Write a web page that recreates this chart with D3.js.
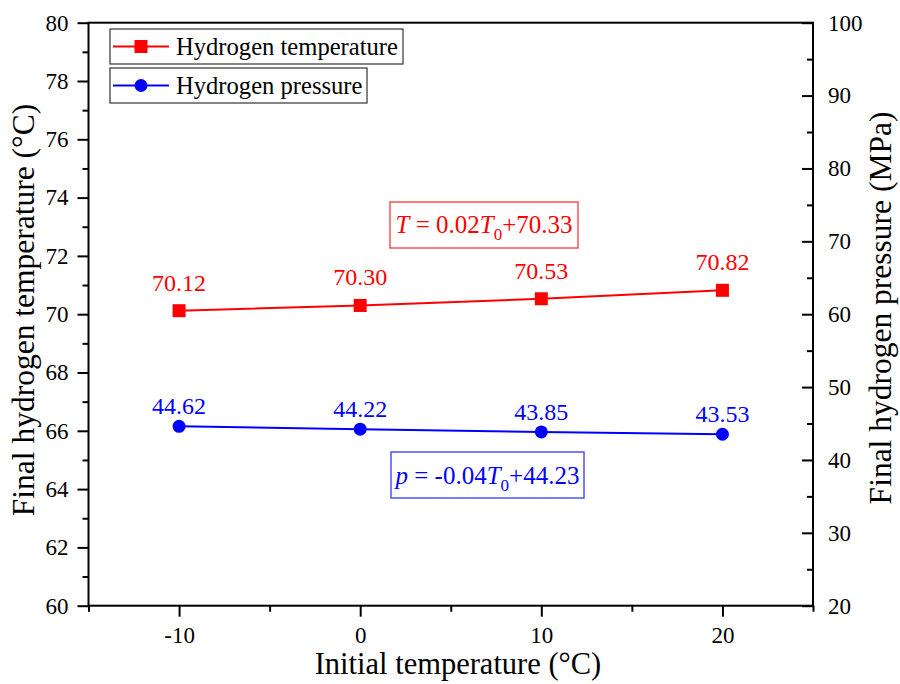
<!DOCTYPE html>
<html>
<head>
<meta charset="utf-8">
<script src="https://cdn.jsdelivr.net/npm/d3@7"></script>
<style>
  html, body { margin: 0; padding: 0; background: #fff; }
  svg text { font-family: "Liberation Serif", "Times New Roman", serif; }
</style>
</head>
<body>
<svg id="chart" width="900" height="684"></svg>
<script>
// Initial temperature (°C)
const initialTemps = [-10, 0, 10, 20];
// Final hydrogen temperature (°C)
const finalTemps = [70.12, 70.30, 70.53, 70.82];
// Final hydrogen pressure (MPa)
const finalPressures = [44.62, 44.22, 43.85, 43.53];

const xTicks = [-10, 0, 10, 20];
const yLeftTicks = [60, 62, 64, 66, 68, 70, 72, 74, 76, 78, 80];
const yRightTicks = [20, 30, 40, 50, 60, 70, 80, 90, 100];

const margin = { left: 88.5, right: 813, top: 22.7, bottom: 605.7 };
const svg = d3.select("#chart");

const x = d3.scaleLinear().domain([-15, 25]).range([margin.left, margin.right]);
const yL = d3.scaleLinear().domain([60, 80]).range([margin.bottom, margin.top]);
const yR = d3.scaleLinear().domain([20, 100]).range([margin.bottom, margin.top]);

const red = "#ff0000", blue = "#0000ff";
const plain = d => String(d);

// frame
svg.append("rect")
  .attr("x", margin.left).attr("y", margin.top)
  .attr("width", margin.right - margin.left).attr("height", margin.bottom - margin.top)
  .attr("fill", "none").attr("stroke", "#000").attr("stroke-width", 2);

function styleAxis(g, fontSize) {
  g.select(".domain").remove();
  g.selectAll(".tick line").attr("stroke", "#000").attr("stroke-width", 2);
  g.selectAll(".tick text").attr("font-size", fontSize).attr("fill", "#000")
    .style("font-family", "'Liberation Serif', 'Times New Roman', serif");
}

// bottom axis: majors and minors
const gx = svg.append("g").attr("transform", `translate(0,${margin.bottom})`)
  .call(d3.axisBottom(x).tickValues(xTicks).tickSize(11).tickPadding(10).tickFormat(plain));
styleAxis(gx, 23);
const gxm = svg.append("g").attr("transform", `translate(0,${margin.bottom})`)
  .call(d3.axisBottom(x).tickValues([-15, -5, 5, 15, 25]).tickSize(6).tickFormat(""));
styleAxis(gxm, 23);

// left axis
const gy = svg.append("g").attr("transform", `translate(${margin.left},0)`)
  .call(d3.axisLeft(yL).tickValues(yLeftTicks).tickSize(11).tickPadding(9).tickFormat(plain));
styleAxis(gy, 23);
const gym = svg.append("g").attr("transform", `translate(${margin.left},0)`)
  .call(d3.axisLeft(yL).tickValues(d3.range(61, 80, 2)).tickSize(6).tickFormat(""));
styleAxis(gym, 23);

// right axis (ticks point inward)
const gr = svg.append("g").attr("transform", `translate(${margin.right},0)`)
  .call(d3.axisRight(yR).tickValues(yRightTicks).tickSize(-11).tickFormat(plain));
styleAxis(gr, 23);
gr.selectAll(".tick text").attr("x", 15);
const grm = svg.append("g").attr("transform", `translate(${margin.right},0)`)
  .call(d3.axisRight(yR).tickValues(d3.range(25, 100, 10)).tickSize(-6).tickFormat(""));
styleAxis(grm, 23);

// axis titles
svg.append("text").attr("x", 458).attr("y", 674).attr("text-anchor", "middle")
  .attr("font-size", 30.5).text("Initial temperature (°C)");
svg.append("text").attr("transform", "translate(34,310) rotate(-90)")
  .attr("text-anchor", "middle").attr("font-size", 31.5).text("Final hydrogen temperature (°C)");
svg.append("text").attr("transform", "translate(891,308) rotate(-90)")
  .attr("text-anchor", "middle").attr("font-size", 31.5).text("Final hydrogen pressure (MPa)");

const tData = initialTemps.map((t, i) => ({ x: t, y: finalTemps[i] }));
const pData = initialTemps.map((t, i) => ({ x: t, y: finalPressures[i] }));

// temperature series
svg.append("path").datum(tData)
  .attr("d", d3.line().x(d => x(d.x)).y(d => yL(d.y)))
  .attr("fill", "none").attr("stroke", red).attr("stroke-width", 2);
svg.selectAll(".tmark").data(tData).enter().append("rect")
  .attr("x", d => x(d.x) - 6.5).attr("y", d => yL(d.y) - 6.5)
  .attr("width", 13).attr("height", 13).attr("fill", red);
svg.selectAll(".tlab").data(tData).enter().append("text")
  .attr("x", d => x(d.x)).attr("y", d => yL(d.y) - 20)
  .attr("text-anchor", "middle").attr("font-size", 24).attr("fill", red)
  .text(d => d.y.toFixed(2));

// pressure series
svg.append("path").datum(pData)
  .attr("d", d3.line().x(d => x(d.x)).y(d => yR(d.y)))
  .attr("fill", "none").attr("stroke", blue).attr("stroke-width", 2);
svg.selectAll(".pmark").data(pData).enter().append("circle")
  .attr("cx", d => x(d.x)).attr("cy", d => yR(d.y)).attr("r", 6.5).attr("fill", blue);
svg.selectAll(".plab").data(pData).enter().append("text")
  .attr("x", d => x(d.x)).attr("y", d => yR(d.y) - 12)
  .attr("text-anchor", "middle").attr("font-size", 24).attr("fill", blue)
  .text(d => d.y.toFixed(2));

// fitted equations
function equation(box, color, stroke, baseline, parts) {
  svg.append("rect").attr("x", box[0]).attr("y", box[1])
    .attr("width", box[2] - box[0]).attr("height", box[3] - box[1])
    .attr("fill", "#fff").attr("stroke", stroke).attr("stroke-width", 1.5);
  const t = svg.append("text").attr("x", (box[0] + box[2]) / 2).attr("y", baseline)
    .attr("text-anchor", "middle").attr("font-size", 25).attr("fill", color);
  parts.forEach(p => {
    const s = t.append("tspan").text(p.t);
    if (p.i) s.attr("font-style", "italic");
    if (p.sub) s.attr("font-size", 17).attr("dy", 7);
    if (p.up) s.attr("dy", -7);
  });
}
equation([390, 202, 578, 248], red, "#ff5050", 233, [
  { t: "T", i: true }, { t: " = 0.02" }, { t: "T", i: true }, { t: "0", sub: true }, { t: "+70.33", up: true }
]);
equation([391, 452, 584, 498], blue, "#5050ff", 484, [
  { t: "p", i: true }, { t: " = -0.04" }, { t: "T", i: true }, { t: "0", sub: true }, { t: "+44.23", up: true }
]);

// legend
const legendItems = [
  { label: "Hydrogen temperature", color: red, shape: "square", box: [110, 29, 403, 64] },
  { label: "Hydrogen pressure", color: blue, shape: "circle", box: [110, 68, 367, 103] }
];
legendItems.forEach(it => {
  const [x0, y0, x1, y1] = it.box;
  const cy = (y0 + y1) / 2;
  svg.append("rect").attr("x", x0).attr("y", y0).attr("width", x1 - x0).attr("height", y1 - y0)
    .attr("fill", "#fff").attr("stroke", "#333").attr("stroke-width", 1.2);
  svg.append("line").attr("x1", x0 + 3).attr("x2", x0 + 59).attr("y1", cy).attr("y2", cy)
    .attr("stroke", it.color).attr("stroke-width", 2);
  if (it.shape === "square") {
    svg.append("rect").attr("x", x0 + 24.5).attr("y", cy - 6.5).attr("width", 13).attr("height", 13).attr("fill", it.color);
  } else {
    svg.append("circle").attr("cx", x0 + 31).attr("cy", cy).attr("r", 6.5).attr("fill", it.color);
  }
  svg.append("text").attr("x", x0 + 66).attr("y", cy + 8).attr("font-size", 24.6).attr("fill", "#000").text(it.label);
});
</script>
</body>
</html>
